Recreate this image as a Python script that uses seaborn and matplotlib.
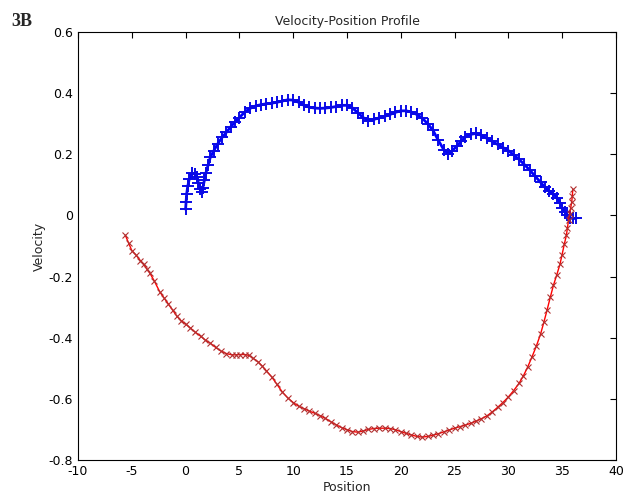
import numpy as np
import pandas as pd
import matplotlib
matplotlib.use("Agg")
import matplotlib.pyplot as plt
import seaborn as sns

# outbound (blue) trajectory
blue_pos = [0.0, 0.05, 0.1, 0.2, 0.35, 0.6, 0.85, 1.05, 1.2, 1.35, 1.5, 1.6, 1.75,
            1.9, 2.1, 2.3, 2.6, 3.0, 3.4, 3.8, 4.2, 4.6, 5.0, 5.5, 6.0, 6.5, 7.0,
            7.5, 8.0, 8.5, 9.0, 9.5, 10.0, 10.5, 11.0, 11.5, 12.0, 12.5, 13.0,
            13.5, 14.0, 14.5, 15.0, 15.5, 16.0, 16.5, 17.0, 17.5, 18.0, 18.5,
            19.0, 19.5, 20.0, 20.5, 21.0, 21.5, 22.0, 22.5, 23.0, 23.5, 24.0,
            24.4, 24.8, 25.2, 25.6, 26.0, 26.5, 27.0, 27.5, 28.0, 28.5, 29.0,
            29.5, 30.0, 30.5, 31.0, 31.5, 32.0, 32.5, 33.0, 33.4, 33.8, 34.2,
            34.5, 34.8, 35.0, 35.3, 35.5, 35.7, 36.0, 36.3]
blue_vel = [0.02, 0.045, 0.07, 0.095, 0.12, 0.138, 0.135, 0.125, 0.105, 0.085,
            0.075, 0.09, 0.115, 0.14, 0.165, 0.19, 0.21, 0.235, 0.255, 0.272,
            0.29, 0.305, 0.32, 0.338, 0.35, 0.358, 0.362, 0.365, 0.367, 0.37,
            0.374, 0.378, 0.377, 0.37, 0.36, 0.354, 0.351, 0.35, 0.351, 0.353,
            0.356, 0.36, 0.36, 0.352, 0.336, 0.32, 0.31, 0.314, 0.319, 0.324,
            0.33, 0.337, 0.342, 0.342, 0.338, 0.33, 0.318, 0.3, 0.278, 0.245,
            0.215, 0.202, 0.212, 0.226, 0.242, 0.256, 0.265, 0.268, 0.262,
            0.252, 0.242, 0.232, 0.222, 0.212, 0.198, 0.183, 0.166, 0.148,
            0.128, 0.108, 0.092, 0.08, 0.07, 0.058, 0.04, 0.025, 0.01, 0.0,
            -0.008, -0.01, -0.01]

# return (red) trajectory
red_pos = [-5.6, -5.3, -5.0, -4.6, -4.2, -3.9, -3.6, -3.3, -2.9, -2.4, -2.0, -1.6,
           -1.2, -0.8, -0.4, 0.0, 0.4, 0.9, 1.4, 1.8, 2.3, 2.8, 3.3, 3.8, 4.3,
           4.7, 5.1, 5.5, 5.9, 6.3, 6.7, 7.1, 7.5, 8.0, 8.5, 9.0, 9.5, 10.0,
           10.5, 11.0, 11.5, 12.0, 12.5, 13.0, 13.5, 14.0, 14.5, 15.0, 15.5,
           16.0, 16.5, 17.0, 17.5, 18.0, 18.5, 19.0, 19.5, 20.0, 20.5, 21.0,
           21.5, 22.0, 22.5, 23.0, 23.5, 24.0, 24.5, 25.0, 25.5, 26.0, 26.5,
           27.0, 27.5, 28.0, 28.5, 29.0, 29.5, 30.0, 30.5, 31.0, 31.4, 31.8,
           32.2, 32.6, 33.0, 33.3, 33.6, 33.9, 34.2, 34.5, 34.8, 35.0, 35.2,
           35.4, 35.5, 35.6, 35.7, 35.8, 35.9, 35.95, 36.0]
red_vel = [-0.065, -0.09, -0.115, -0.13, -0.148, -0.16, -0.175, -0.19, -0.215,
           -0.25, -0.27, -0.29, -0.31, -0.33, -0.345, -0.355, -0.367, -0.382,
           -0.395, -0.407, -0.418, -0.432, -0.444, -0.452, -0.456, -0.456,
           -0.455, -0.455, -0.458, -0.468, -0.478, -0.492, -0.508, -0.528,
           -0.553, -0.578, -0.597, -0.612, -0.624, -0.632, -0.64, -0.647,
           -0.655, -0.664, -0.675, -0.685, -0.694, -0.701, -0.707, -0.709,
           -0.705, -0.7, -0.697, -0.696, -0.696, -0.697, -0.701, -0.707,
           -0.713, -0.718, -0.723, -0.725, -0.723, -0.719, -0.714, -0.708,
           -0.702, -0.696, -0.691, -0.686, -0.68, -0.673, -0.665, -0.656,
           -0.643, -0.628, -0.612, -0.594, -0.573, -0.549, -0.525, -0.496,
           -0.463, -0.428, -0.388, -0.35, -0.31, -0.268, -0.228, -0.195,
           -0.16, -0.128, -0.095, -0.065, -0.04, -0.015, 0.005, 0.025, 0.045,
           0.065, 0.085]

x_ticks = [-10, -5, 0, 5, 10, 15, 20, 25, 30, 35, 40]
y_ticks = [-0.8, -0.6, -0.4, -0.2, 0, 0.2, 0.4, 0.6]

sns.set_theme(style="white")
plt.rcParams["font.family"] = ["DejaVu Sans"]
plt.rcParams["xtick.direction"] = "in"
plt.rcParams["ytick.direction"] = "in"

blue = pd.DataFrame({"Position": blue_pos, "Velocity": blue_vel})
red = pd.DataFrame({"Position": red_pos, "Velocity": red_vel})

fig = plt.figure(figsize=(6.24, 5.03), dpi=100)
ax = fig.add_axes([0.125, 0.0855, 0.862, 0.851])

sns.lineplot(data=blue, x="Position", y="Velocity", sort=False, ax=ax,
             color="#0000ff", lw=2.0, marker="+", markersize=9,
             markeredgewidth=1.4, markeredgecolor="#0a0ae6")
sns.lineplot(data=red, x="Position", y="Velocity", sort=False, ax=ax,
             color="#ff0000", lw=1.0, marker="x", markersize=4.5,
             markeredgewidth=0.8, markeredgecolor="#b03030")

ax.set_xlim(-10, 40)
ax.set_ylim(-0.8, 0.6)
ax.set_xticks(x_ticks)
ax.set_yticks(y_ticks)
ax.set_xticklabels([str(t) for t in x_ticks])
ax.set_yticklabels([f"{t:g}" for t in y_ticks])
ax.tick_params(axis="both", which="both", direction="in", length=4,
               width=0.8, top=True, right=True, labelsize=9, colors="black")
for s in ax.spines.values():
    s.set_color("black")
    s.set_linewidth(0.8)

ax.set_xlabel("Position", fontsize=9, labelpad=2)
ax.set_ylabel("Velocity", fontsize=9, labelpad=2)
ax.set_title("Velocity-Position Profile", fontsize=9, pad=5)

fig.text(0.018, 0.958, "3B", fontsize=13, fontweight="bold",
         family=["Liberation Serif", "DejaVu Serif"], va="center")

fig.savefig("out.png", dpi=100)
plt.close()
